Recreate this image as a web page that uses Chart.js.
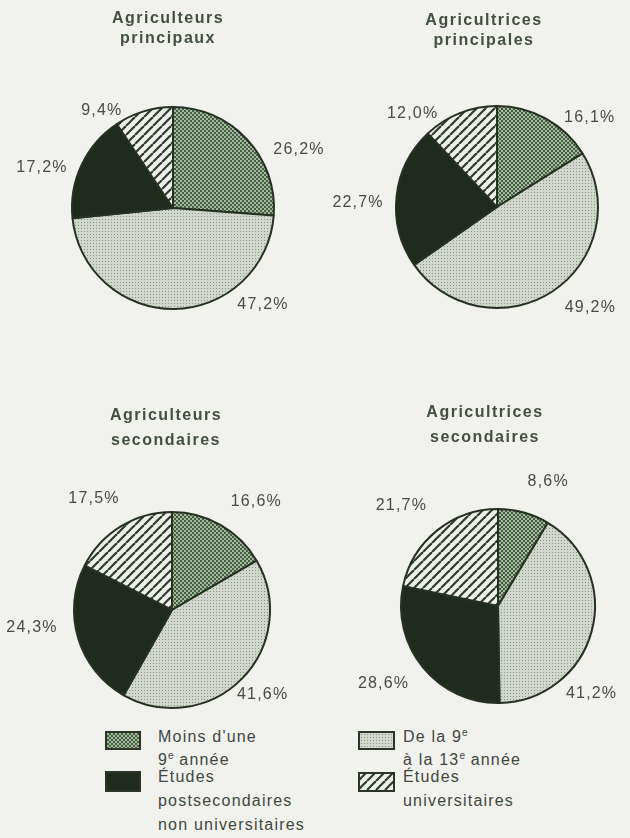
<!DOCTYPE html>
<html lang="fr">
<head>
<meta charset="utf-8">
<title>Niveau de scolarité des exploitants agricoles</title>
<script src="https://cdn.jsdelivr.net/npm/chart.js@4.4.1/dist/chart.umd.min.js"></script>
<style>
  body { margin: 0; background: #f1f1ed; }
  #page {
    position: relative; width: 630px; height: 838px; overflow: hidden;
    background: #f1f1ed;
    font-family: "Liberation Sans", Arial, sans-serif;
  }
  canvas { position: absolute; }
  .legende-texte {
    position: absolute; font-size: 16px; line-height: 23px;
    letter-spacing: 1.2px; color: #3f473d; white-space: nowrap;
  }
  .legende-texte sup {
    font-size: 10px; line-height: 0; vertical-align: baseline;
    position: relative; top: -6px; letter-spacing: 0;
  }
</style>
</head>
<body>
<div id="page">
  <div class="legende-texte" style="left:158px; top:725px;">Moins d'une<br>9<sup>e</sup> année</div>
  <div class="legende-texte" style="left:158px; top:765px; line-height:24px;">Études<br>postsecondaires<br>non universitaires</div>
  <div class="legende-texte" style="left:403px; top:725px;">De la 9<sup>e</sup><br>à la 13<sup>e</sup> année</div>
  <div class="legende-texte" style="left:403px; top:765px; line-height:24px;">Études<br>universitaires</div>
</div>
<script>
// Catégories (ordre horaire à partir de midi)
const categories = [
    "Moins d'une 9e année",
    "De la 9e à la 13e année",
    "Études postsecondaires non universitaires",
    "Études universitaires"
];

// Pourcentages par groupe
const agriculteursPrincipaux = [26.2, 47.2, 17.2, 9.4];
const agricultricesPrincipales = [16.1, 49.2, 22.7, 12.0];
const agriculteursSecondaires = [16.6, 41.6, 24.3, 17.5];
const agricultricesSecondaires = [8.6, 41.2, 28.6, 21.7];

// Titres des camemberts
const titres = [
    ['Agriculteurs', 'principaux'],
    ['Agricultrices', 'principales'],
    ['Agriculteurs', 'secondaires'],
    ['Agricultrices', 'secondaires']
];

// Mise en page : boîte du canvas, marges autour du disque,
// position des titres et des pourcentages (angle depuis midi, distance au centre)
const graphiques = [
    { donnees: agriculteursPrincipaux, titre: titres[0], boite: [0, 0, 345, 350],
      marge: { left: 71, top: 106, right: 70, bottom: 40 }, titreDx: -5, titreY: [23, 43],
      etiquettes: [[65, 139], [137, 132], [287, 137], [324, 121]] },
    { donnees: agricultricesPrincipales, titre: titres[1], boite: [315, 0, 315, 350],
      marge: { left: 80, top: 105, right: 31, bottom: 41 }, titreDx: -13, titreY: [25, 45],
      etiquettes: [[46, 129], [137, 137], [272, 139], [318, 126]] },
    { donnees: agriculteursSecondaires, titre: titres[2], boite: [0, 390, 345, 330],
      marge: { left: 73, top: 121, right: 74, bottom: 11 }, titreDx: -6, titreY: [30, 55],
      etiquettes: [[38, 137], [133, 124], [263, 141], [325, 136]] },
    { donnees: agricultricesSecondaires, titre: titres[3], boite: [315, 390, 315, 330],
      marge: { left: 85, top: 118, right: 34, bottom: 16 }, titreDx: -13, titreY: [27, 52],
      etiquettes: [[22, 134], [133, 128], [236, 138], [316, 139]] }
];

// Trames d'impression
function creerMotif(type) {
    const c = document.createElement('canvas');
    const g = c.getContext('2d');
    if (type === 'pointsFonces') {
        c.width = c.height = 4;
        g.fillStyle = '#445f3f';
        g.fillRect(0, 0, 4, 4);
        g.fillStyle = '#a7b8a0';
        g.fillRect(0, 0, 2, 2);
        g.fillRect(2, 2, 2, 2);
    } else if (type === 'pointsClairs') {
        c.width = c.height = 3;
        g.fillStyle = '#d2d7ce';
        g.fillRect(0, 0, 3, 3);
        g.fillStyle = '#889384';
        g.fillRect(0, 0, 1, 1);
    } else if (type === 'plein') {
        c.width = c.height = 2;
        g.fillStyle = '#1f2b1d';
        g.fillRect(0, 0, 2, 2);
    } else {
        c.width = c.height = 9;
        g.fillStyle = '#eef0eb';
        g.fillRect(0, 0, 9, 9);
        g.strokeStyle = '#2f3b2c';
        g.lineWidth = 2.2;
        for (let k = -1; k <= 1; k++) {
            g.beginPath();
            g.moveTo(k * 9, 9);
            g.lineTo(k * 9 + 9, 0);
            g.stroke();
        }
    }
    return g.createPattern(c, 'repeat');
}

const typesMotifs = ['pointsFonces', 'pointsClairs', 'plein', 'hachures'];
const motifs = typesMotifs.map(creerMotif);

function formater(v) {
    return v.toFixed(1).replace('.', ',') + '%';
}

// Titre et pourcentages dessinés autour du disque
const habillage = {
    id: 'habillage',
    afterDatasetsDraw(chart, args, opts) {
        const ctx = chart.ctx;
        const arcs = chart.getDatasetMeta(0).data;
        const cx = arcs[0].x;
        const valeurs = chart.data.datasets[0].data;
        ctx.save();
        ctx.textAlign = 'center';

        ctx.fillStyle = '#435041';
        ctx.font = 'bold 16px "Liberation Sans", Arial, sans-serif';
        ctx.letterSpacing = '1.5px';
        ctx.textBaseline = 'alphabetic';
        opts.titre.forEach((ligne, i) => ctx.fillText(ligne, cx + opts.titreDx, opts.titreY[i]));

        ctx.fillStyle = '#474d45';
        ctx.font = '16px "Liberation Sans", Arial, sans-serif';
        ctx.letterSpacing = '1.2px';
        ctx.textBaseline = 'middle';
        arcs.forEach((arc, i) => {
            const [angle, dist] = opts.etiquettes[i];
            const a = angle * Math.PI / 180;
            ctx.fillText(formater(valeurs[i]), arc.x + dist * Math.sin(a), arc.y - dist * Math.cos(a));
        });
        ctx.restore();
    }
};

const page = document.getElementById('page');

graphiques.forEach(g => {
    const canvas = document.createElement('canvas');
    const [x, y, w, h] = g.boite;
    canvas.width = w;
    canvas.height = h;
    canvas.style.left = x + 'px';
    canvas.style.top = y + 'px';
    page.appendChild(canvas);

    new Chart(canvas.getContext('2d'), {
        type: 'pie',
        data: {
            labels: categories,
            datasets: [{
                data: g.donnees,
                backgroundColor: motifs,
                borderColor: '#263123',
                borderWidth: 2
            }]
        },
        options: {
            responsive: false,
            animation: false,
            layout: { padding: g.marge },
            plugins: {
                legend: { display: false },
                tooltip: { enabled: false },
                habillage: { titre: g.titre, titreDx: g.titreDx, titreY: g.titreY, etiquettes: g.etiquettes }
            }
        },
        plugins: [habillage]
    });
});

// Cases de la légende
const cases = [[105, 731, 36, 19], [358, 731, 37, 19], [105, 771, 36, 21], [358, 772, 37, 20]];
cases.forEach(([x, y, w, h], i) => {
    const c = document.createElement('canvas');
    c.width = w;
    c.height = h;
    c.style.left = x + 'px';
    c.style.top = y + 'px';
    const g = c.getContext('2d');
    g.fillStyle = motifs[i];
    g.fillRect(0, 0, w, h);
    g.strokeStyle = '#2a3527';
    g.lineWidth = 2;
    g.strokeRect(1, 1, w - 2, h - 2);
    page.appendChild(c);
});
</script>
</body>
</html>
